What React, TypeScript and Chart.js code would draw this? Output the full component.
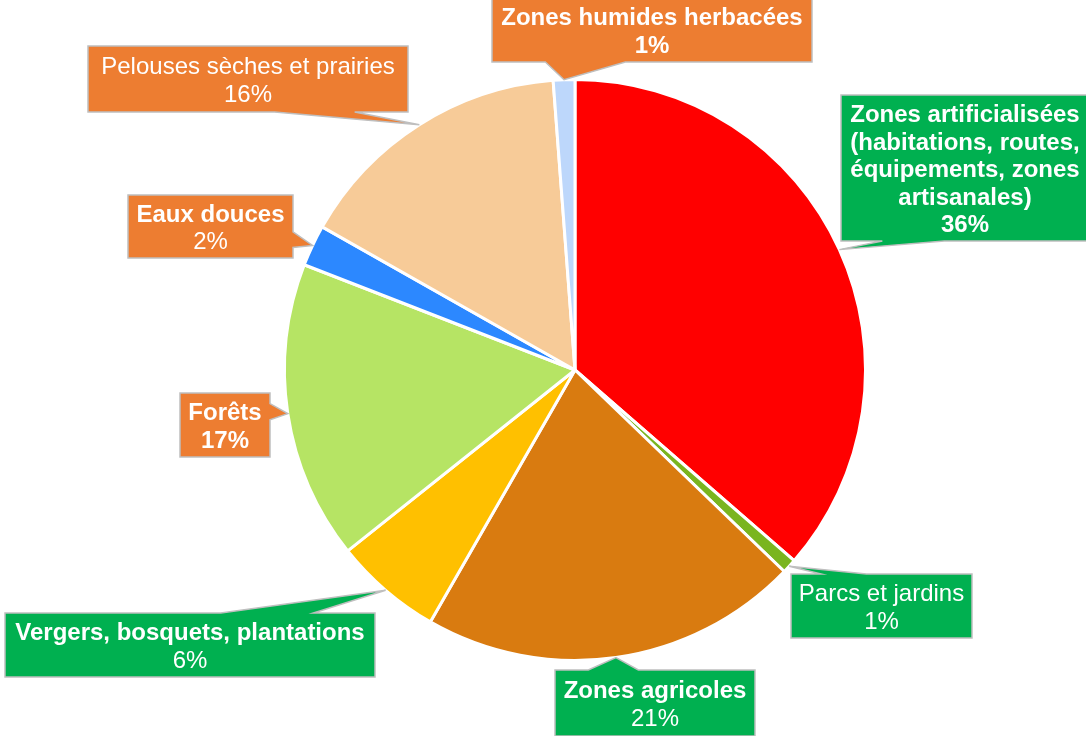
import React, { useEffect, useRef } from 'react';
import { Chart, registerables } from 'chart.js';

Chart.register(...registerables);

const categories = [
  'Zones artificialisées (habitations, routes, équipements, zones artisanales)',
  'Parcs et jardins',
  'Zones agricoles',
  'Vergers, bosquets, plantations',
  'Forêts',
  'Eaux douces',
  'Pelouses sèches et prairies',
  'Zones humides herbacées',
];
const labelLines = [
  ['Zones artificialisées', '(habitations, routes,', 'équipements, zones', 'artisanales)'],
  ['Parcs et jardins'],
  ['Zones agricoles'],
  ['Vergers, bosquets, plantations'],
  ['Forêts'],
  ['Eaux douces'],
  ['Pelouses sèches et prairies'],
  ['Zones humides herbacées'],
];
const values = [36.4, 0.8, 21.1, 6.0, 16.6, 2.3, 15.6, 1.2];
const sliceColors = ['#FF0000', '#7AB51F', '#D97B10', '#FFC000', '#B6E464', '#2C88FF', '#F7CB98', '#BDD7FB'];
const boxColors = ['#00B050', '#00B050', '#00B050', '#00B050', '#ED7D31', '#ED7D31', '#ED7D31', '#ED7D31'];
const nameBold = [true, false, true, true, true, true, false, true];
const pctBold = [true, false, false, false, true, false, false, true];

// callout box layout: centre offset from the pie centre, size, edge that carries the wedge
const boxLayout = [
  { dx: 390, dy: -202, w: 248, h: 146, side: 'bottom' },
  { dx: 306.5, dy: 236, w: 181, h: 64, side: 'top' },
  { dx: 80, dy: 333, w: 200, h: 66, side: 'top' },
  { dx: -385, dy: 275, w: 370, h: 64, side: 'top' },
  { dx: -350, dy: 55, w: 90, h: 64, side: 'right' },
  { dx: -364.5, dy: -143.5, w: 165, h: 63, side: 'right' },
  { dx: -327, dy: -291, w: 320, h: 66, side: 'bottom' },
  { dx: 77, dy: -340, w: 320, h: 64, side: 'bottom' },
];

const FONT_FAMILY = '"Liberation Sans", Arial, sans-serif';
const FONT_SIZE = 24;
const LINE_H = 27.5;

function calloutPath(ctx: CanvasRenderingContext2D, x: number, y: number, w: number, h: number, tx: number, ty: number, side: string) {
  const cx = x + w / 2, cy = y + h / 2;
  ctx.beginPath();
  ctx.moveTo(x, y);
  if (side === 'top') {
    const a = tx < cx ? [2 / 12, 5 / 12] : [7 / 12, 10 / 12];
    ctx.lineTo(x + w * a[0], y); ctx.lineTo(tx, ty); ctx.lineTo(x + w * a[1], y);
  }
  ctx.lineTo(x + w, y);
  if (side === 'right') {
    const a = ty < cy ? [2 / 12, 5 / 12] : [7 / 12, 10 / 12];
    ctx.lineTo(x + w, y + h * a[0]); ctx.lineTo(tx, ty); ctx.lineTo(x + w, y + h * a[1]);
  }
  ctx.lineTo(x + w, y + h);
  if (side === 'bottom') {
    const a = tx < cx ? [2 / 12, 5 / 12] : [7 / 12, 10 / 12];
    ctx.lineTo(x + w * a[1], y + h); ctx.lineTo(tx, ty); ctx.lineTo(x + w * a[0], y + h);
  }
  ctx.lineTo(x, y + h);
  if (side === 'left') {
    const a = ty < cy ? [2 / 12, 5 / 12] : [7 / 12, 10 / 12];
    ctx.lineTo(x, y + h * a[1]); ctx.lineTo(tx, ty); ctx.lineTo(x, y + h * a[0]);
  }
  ctx.closePath();
}

const calloutPlugin = {
  id: 'callouts',
  afterDatasetsDraw(chart: any) {
    const ctx: CanvasRenderingContext2D = chart.ctx;
    const meta = chart.getDatasetMeta(0);
    const data = chart.data.datasets[0].data as number[];
    const total = data.reduce((s, v) => s + v, 0);
    ctx.save();
    meta.data.forEach((arc: any, i: number) => {
      const p = arc.getProps(['x', 'y', 'startAngle', 'endAngle', 'outerRadius'], true);
      const mid = (p.startAngle + p.endAngle) / 2;
      const tx = p.x + Math.cos(mid) * p.outerRadius;
      const ty = p.y + Math.sin(mid) * p.outerRadius;
      const L = boxLayout[i];
      const bx = p.x + L.dx - L.w / 2;
      const by = p.y + L.dy - L.h / 2;
      calloutPath(ctx, bx, by, L.w, L.h, tx, ty, L.side);
      ctx.fillStyle = boxColors[i];
      ctx.fill();
      ctx.lineWidth = 1.5;
      ctx.strokeStyle = '#BFBFBF';
      ctx.stroke();

      const pct = Math.round((data[i] / total) * 100) + '%';
      const lines = labelLines[i].map((t) => ({ t, b: nameBold[i] }));
      lines.push({ t: pct, b: pctBold[i] });
      const cy = p.y + L.dy;
      const startY = cy - ((lines.length - 1) * LINE_H) / 2;
      ctx.fillStyle = '#FFFFFF';
      ctx.textAlign = 'center';
      ctx.textBaseline = 'middle';
      lines.forEach((ln, k) => {
        ctx.font = `${ln.b ? 'bold ' : ''}${FONT_SIZE}px ${FONT_FAMILY}`;
        ctx.fillText(ln.t, p.x + L.dx, startY + k * LINE_H + 2.5);
      });
    });
    ctx.restore();
  },
};

export default function App() {
  const canvasRef = useRef<HTMLCanvasElement | null>(null);
  useEffect(() => {
    if (!canvasRef.current) return;
    const chart = new Chart(canvasRef.current, {
      type: 'pie',
      data: {
        labels: categories,
        datasets: [
          {
            data: values,
            backgroundColor: sliceColors,
            borderColor: '#FFFFFF',
            borderWidth: 3,
          },
        ],
      },
      options: {
        responsive: false,
        animation: false,
        layout: { padding: { left: 283, right: 219, top: 78, bottom: 74 } },
        plugins: {
          legend: { display: false },
          tooltip: { enabled: false },
        },
      },
      plugins: [calloutPlugin],
    });
    return () => chart.destroy();
  }, []);
  return (
    <div style={{ position: 'fixed', left: 0, top: 0, width: 1086, height: 736, background: '#FFFFFF' }}>
      <canvas ref={canvasRef} width={1086} height={736} style={{ display: 'block' }} />
    </div>
  );
}
